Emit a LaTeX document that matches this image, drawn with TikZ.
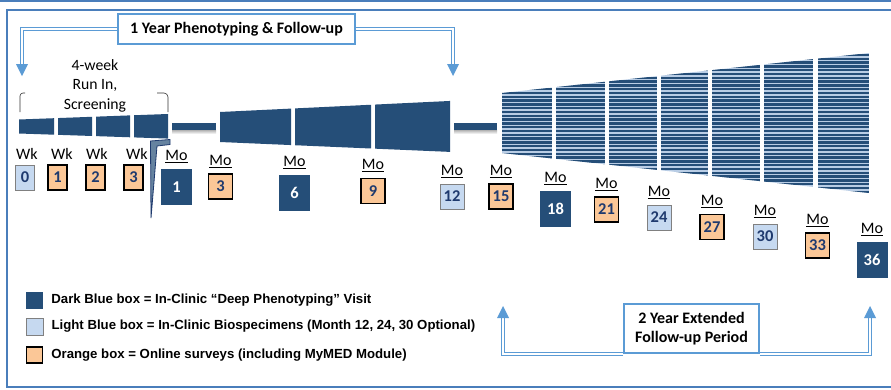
\documentclass[tikz,border=0pt]{standalone}
\usepackage{fontspec}
\setmainfont{Carlito}
\newfontfamily\legendfont{Liberation Sans}
\usetikzlibrary{positioning}
\definecolor{dkblue}{HTML}{254E78}
\definecolor{ltblue}{HTML}{C6D9F0}
\definecolor{orng}{HTML}{FBC797}
\definecolor{navy}{HTML}{1F3A6E}
\definecolor{arrowblue}{HTML}{5B9BD5}
\definecolor{framecol}{HTML}{4A7EBB}
\definecolor{stripecol}{HTML}{B9CDE5}

\begin{document}
\begin{tikzpicture}[x=1pt,y=-1pt,
    every node/.style={inner sep=0pt},
    num/.style={font=\fontsize{16.5}{19}\selectfont\bfseries},
    dkbox/.style={fill=dkblue,text=white,minimum width=31,minimum height=36},
    ltbox/.style={fill=ltblue,draw=gray,line width=0.8,text=navy,minimum width=24,minimum height=25},
    orbox/.style={fill=orng,draw=black,line width=1.3,text=navy,minimum width=24,minimum height=25},
    molbl/.style={font=\fontsize{16}{19}\selectfont},
    yrbox/.style={draw=arrowblue,line width=1.6,fill=white,font=\fontsize{16}{19}\selectfont\bfseries},
    dbl/.style={draw=arrowblue,line width=0.9,double=white,double distance=1.8},
    legtext/.style={font=\legendfont\bfseries\fontsize{13.2}{15}\selectfont}]
\useasboundingbox [fill=white] (0,0) rectangle (891,389);
% frame
\draw [framecol,line width=1.2] (0,1) -- (891,1);
\draw [framecol,line width=1.5] (895,10) -- (7,10) -- (7,387) -- (895,387);

% timeline bars
\foreach \a/\b in {19/54,58/92,96/130,134/168}
    \fill [dkblue] (\a,{119.5-(\a-19)*0.037}) -- (\b,{119.5-(\b-19)*0.037})
        -- (\b,{133.5+(\b-19)*0.034}) -- (\a,{133.5+(\a-19)*0.034}) -- cycle;
\foreach \a/\b in {220/291,295/371,375/450}
    \fill [dkblue] (\a,{112-(\a-220)*0.048}) -- (\b,{112-(\b-220)*0.048})
        -- (\b,{142+(\b-220)*0.043}) -- (\a,{142+(\a-220)*0.043}) -- cycle;
\foreach \a/\b in {502/552,556/605,609/657,661/708,712/760,764/813,818/869} {
    \begin{scope}
    \clip (\a,{93-(\a-502)*0.109}) -- (\b,{93-(\b-502)*0.109})
        -- (\b,{153+(\b-502)*0.109}) -- (\a,{153+(\a-502)*0.109}) -- cycle;
    \fill [stripecol] (\a,40) rectangle (\b,200);
    \foreach \yy in {50,53.8,...,198}
        \fill [dkblue] (\a,\yy) rectangle (\b,\yy+2.4);
    \end{scope}
}
\foreach \a/\b in {172/216,454/497} {
    \fill [dkblue] (\a,123) rectangle (\b,130);
    \fill [top color=gray!60,bottom color=white] (\a,130) rectangle (\b,134);
}
\filldraw [draw=navy,fill=dkblue!70,line width=0.8]
    (151,218) -- (150.5,141) -- (170,139.5) -- (170,144.5) -- (157,146) -- cycle;

% run-in bracket
\draw [gray!40!black,line width=0.6,rounded corners=3] (20,112) -- (20,93) -- (25,93);
\draw [gray!40!black,line width=0.6,rounded corners=4] (157,93) -- (168,93) -- (168,112);
\node [align=center,font=\fontsize{15.7}{19.5}\selectfont] (runin) at (95,85.5)
    {4-week\\Run In,\\Screening};

% week and month boxes
\foreach \n/\st/\x/\lx in {0/ltbox/25/27,1/orbox/57.5/62,2/orbox/95.5/97,3/orbox/133.5/137}
    \node [\st,num,minimum width=19] (wk\n) at (\x,177.5) {\n}
        node [molbl] (wkl\n) at (\lx,154) {Wk};
\foreach \n/\st/\x/\yy in {1/dkbox/176.5/187,3/orbox/220.5/186.5,6/dkbox/294.5/193,
        9/orbox/373/191,12/ltbox/452/196.5,15/orbox/501/196.5,18/dkbox/555.5/209,
        21/orbox/606.5/209.5,24/ltbox/659/217.5,27/orbox/712/227,30/ltbox/765/236.5,
        33/orbox/817.5/245.5,36/dkbox/872/260}
    \node [\st,num] (mo\n) at (\x,\yy) {\n}
        node [molbl] (mol\n) at ([yshift=12pt]mo\n.north) {\underline{Mo}};

% period arrows
\node [yrbox,minimum width=237,minimum height=30] (year) at (236.5,29)
    {1 Year Phenotyping \& Follow-up};
\coordinate (tipL) at (22,76);
\coordinate (tipR) at (453,76);
\coordinate (endL) at (22,65);
\coordinate (endR) at (453,65);
\draw [dbl] (year.west) -| (endL);
\draw [dbl] (year.east) -| (endR);
\fill [arrowblue] (tipL) -- ++(-6,-12) -- ++(12,0) -- cycle;
\fill [arrowblue] (tipR) -- ++(-6,-12) -- ++(12,0) -- cycle;

\node [yrbox,align=center,minimum width=135,minimum height=49] (ext) at (691.5,328.5)
    {2 Year Extended\\Follow-up Period};
\coordinate (tipA) at (503,306);
\coordinate (tipB) at (870,306);
\coordinate (endA) at (503,317);
\coordinate (endB) at (870,317);
\draw [dbl] (ext.south west) -| (endA);
\draw [dbl] (ext.south east) -| (endB);
\fill [arrowblue] (tipA) -- ++(-6,12) -- ++(12,0) -- cycle;
\fill [arrowblue] (tipB) -- ++(-6,12) -- ++(12,0) -- cycle;

% legend
\node [fill=dkblue,minimum size=17] (legdk) at (34.5,300.5) {};
\node [fill=ltblue,draw=gray,line width=0.8,minimum size=17] (leglt) at (34.5,326.5) {};
\node [fill=orng,draw=black,line width=1.3,minimum size=16] (legor) at (34.5,355) {};
\node [legtext,right=8pt of legdk] (legdktxt) {Dark Blue box = In-Clinic “Deep Phenotyping” Visit};
\node [legtext,right=8pt of leglt] (leglttxt) {Light Blue box = In-Clinic Biospecimens (Month 12, 24, 30 Optional)};
\node [legtext,right=8pt of legor] (legortxt) {Orange box = Online surveys (including MyMED Module)};
\end{tikzpicture}
\end{document}
